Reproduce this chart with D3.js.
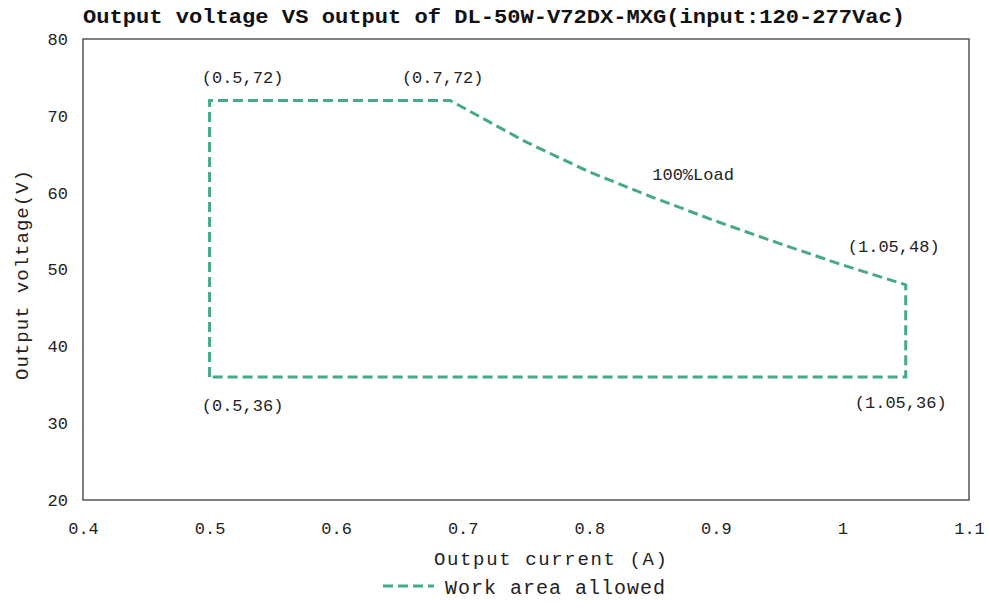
<!DOCTYPE html>
<html><head><meta charset="utf-8">
<script src="https://cdn.jsdelivr.net/npm/d3@7"></script>
<style>body{margin:0;background:#fff}svg{display:block}</style>
</head><body>
<svg id="c" width="988" height="602"></svg>
<script>
const titleText = "Output voltage VS output of DL-50W-V72DX-MXG(input:120-277Vac)";
const xTicks = [0.4,0.5,0.6,0.7,0.8,0.9,1,1.1];
const yTicks = [20,30,40,50,60,70,80];
const currents = [0.5,0.5,0.69,0.75,0.8,0.85,0.9,0.95,1.0,1.05,1.05,0.5];
const voltages = [36,72,72,66.6,62.7,59.4,56.3,53.4,50.6,48,36,36];
const pointLabels = ["(0.5,72)","(0.7,72)","(1.05,48)","(0.5,36)","(1.05,36)"];
const labelX = [0.5,0.7,1.05,0.5,1.05];
const labelY = [72,72,48,36,36];
const seriesName = "Work area allowed";
const curveLabel = "100%Load";

const svg = d3.select("#c");
const m = {l:83, r:969, t:39, b:500};
const x = d3.scaleLinear().domain([0.4,1.1]).range([m.l,m.r]);
const y = d3.scaleLinear().domain([20,80]).range([m.b,m.t]);
const color = "#45a98a";
const font = "'Liberation Mono', 'DejaVu Sans Mono', monospace";

// title
svg.append("text").attr("x",83).attr("y",23).attr("font-family",font)
  .attr("font-weight","bold").attr("font-size",20).attr("fill","#111")
  .attr("textLength",822).attr("lengthAdjust","spacingAndGlyphs").text(titleText);

// frame
svg.append("rect").attr("x",m.l).attr("y",m.t).attr("width",m.r-m.l).attr("height",m.b-m.t)
  .attr("fill","none").attr("stroke","#555").attr("stroke-width",1.5);

// axes
const xa = svg.append("g").attr("transform",`translate(0,${m.b})`)
  .call(d3.axisBottom(x).tickValues(xTicks).tickSize(0).tickPadding(22).tickFormat(d=>String(d)));
const ya = svg.append("g").attr("transform",`translate(${m.l},0)`)
  .call(d3.axisLeft(y).tickValues(yTicks).tickSize(0).tickPadding(15).tickFormat(d=>String(d)));
[xa,ya].forEach(a=>{a.select(".domain").remove();
  a.selectAll("text").attr("font-family",font).attr("font-size",17).attr("fill","#222");});

// axis titles
svg.append("text").attr("x",434).attr("y",565)
  .attr("font-family",font).attr("font-size",19).attr("fill","#222")
  .attr("textLength",233).attr("lengthAdjust","spacing").text("Output current (A)");
svg.append("text").attr("transform","translate(28,380) rotate(-90)")
  .attr("font-family",font).attr("font-size",19).attr("fill","#222")
  .attr("textLength",210).attr("lengthAdjust","spacing").text("Output voltage(V)");

// line
const pts = currents.map((c,i)=>[c,voltages[i]]);
svg.append("path").datum(pts)
  .attr("d", d3.line().x(d=>x(d[0])).y(d=>y(d[1])))
  .attr("fill","none").attr("stroke",color).attr("stroke-width",3)
  .attr("stroke-dasharray","10,5").attr("stroke-linejoin","miter");

// point labels
const offs = [[33,-17],[-20,-17],[-12,-33],[33,34],[-5,31]];
pointLabels.forEach((t,i)=>{
  svg.append("text").attr("x",x(labelX[i])+offs[i][0]).attr("y",y(labelY[i])+offs[i][1])
    .attr("text-anchor","middle").attr("font-family",font).attr("font-size",17).attr("fill","#222").text(t);
});
svg.append("text").attr("x",x(0.882)).attr("y",y(61.6)).attr("text-anchor","middle")
  .attr("font-family",font).attr("font-size",17).attr("fill","#222").text(curveLabel);

// legend
svg.append("line").attr("x1",383).attr("x2",434).attr("y1",586).attr("y2",586)
  .attr("stroke",color).attr("stroke-width",3).attr("stroke-dasharray","10,5");
svg.append("text").attr("x",445).attr("y",594).attr("font-family",font).attr("font-size",20)
  .attr("fill","#222").attr("textLength",220).attr("lengthAdjust","spacing").text(seriesName);
</script>
</body></html>
